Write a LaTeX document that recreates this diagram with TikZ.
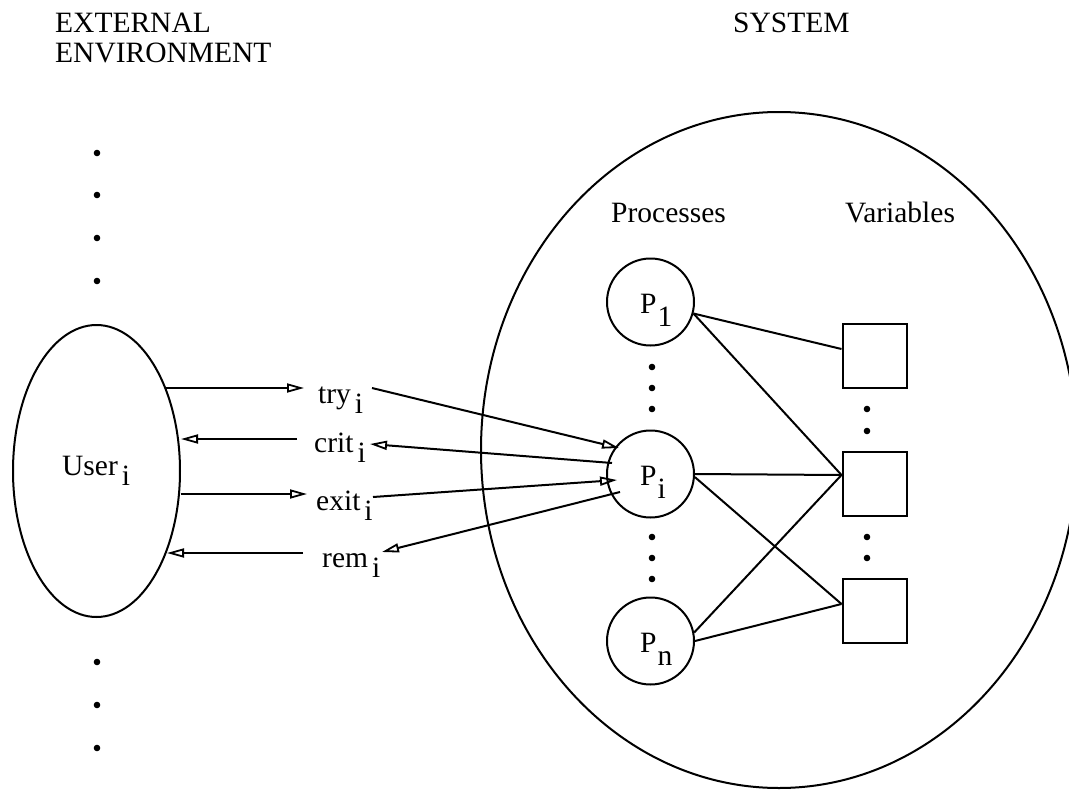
\documentclass[tikz,border=0pt]{standalone}
\usepackage{fontspec}
\setmainfont{Liberation Serif}
\usetikzlibrary{arrows.meta,shapes.geometric,calc}
\newcommand{\lowr}[2]{#1\hspace{4pt}\raisebox{-10pt}{#2}}
\newcommand{\plab}[2]{#1\hspace{1pt}\raisebox{-13pt}{#2}}
\begin{document}
\begin{tikzpicture}[x=1pt,y=-1pt,
  every node/.style={font=\fontsize{29.5}{33}\selectfont},
  txt/.style={anchor=base west,inner sep=0pt},
  ln/.style={line width=2pt},
  arr/.style={line width=2pt,-{Triangle[open,length=17pt,width=9pt,line width=1.8pt]}},
  proc/.style={circle,draw,line width=2pt,minimum size=87pt,inner sep=0pt},
  var/.style={rectangle,draw,line width=2pt,minimum size=64pt,inner sep=0pt},
  dotmark/.style={fill=black}]
\useasboundingbox (0,0) rectangle (1069,790);
\clip (0,0) rectangle (1069,790);

% titles
\node[txt] (ext) at (55,32) {EXTERNAL};
\node[txt] (env) at (55,62) {ENVIRONMENT};
\node[txt] (sys) at (733,32) {SYSTEM};

% system ellipse
\node[ellipse,draw,line width=2pt,minimum width=596pt,minimum height=676pt,inner sep=0pt] (system) at (779,450) {};

\node[txt] (proc) at (611,222) {Processes};
\node[txt] (vars) at (845,222) {Variables};

% user
\node[ellipse,draw,line width=2pt,minimum width=167pt,minimum height=292pt,inner sep=0pt] (user) at (96.5,471) {};
\node[txt] (usert) at (62,475) {\lowr{User}{i}};

% left dots
\foreach \y in {153,195,238,281,662,705,748} \fill[dotmark] (97,\y) circle (3.3);

% processes
\node[proc] (p1) at (650.5,302) {};
\node[proc] (pi) at (650.5,474) {};
\node[proc] (pn) at (650.5,641) {};
\node[txt] (p1t) at (640,313) {\plab{P}{1}};
\node[txt] (pit) at (640,485) {\plab{P}{i}};
\node[txt] (pnt) at (640,652) {\plab{P}{n}};
\foreach \y in {367,388,409,537,558,579} \fill[dotmark] (652,\y) circle (3.3);

% variables
\node[var] (v1) at (874.5,356) {};
\node[var] (v2) at (874.5,484) {};
\node[var] (v3) at (874.5,611) {};
\foreach \y in {409,431,537,558} \fill[dotmark] (867,\y) circle (3.3);

% labels
\node[txt] (try) at (318,403) {\lowr{try}{i}};
\node[txt] (crit) at (314,452) {\lowr{crit}{i}};
\node[txt] (exit) at (316,510) {\lowr{exit}{i}};
\node[txt] (rem) at (322,567) {\lowr{rem}{i}};

% coordinates for connector ends
\coordinate (uTry) at (166,388);
\coordinate (uCrit) at (181,439);
\coordinate (uExit) at (181,494);
\coordinate (uRem) at (167,553);
\coordinate (lTry) at (304,388);
\coordinate (lCrit) at (297,439);
\coordinate (lExit) at (307,494);
\coordinate (lRem) at (303,553);
\coordinate (rTry) at (372,388);
\coordinate (rCrit) at (370,444);
\coordinate (rExit) at (373,497);
\coordinate (rRem) at (382,552);
\coordinate (piTry) at (619,448);
\coordinate (piCrit) at (612,463);
\coordinate (piExit) at (617,480);
\coordinate (piRem) at (620,492);

% user <-> labels
\draw[arr] (uTry) -- (lTry);
\draw[arr] (lCrit) -- (uCrit);
\draw[arr] (uExit) -- (lExit);
\draw[arr] (lRem) -- (uRem);

% labels <-> P_i
\draw[arr] (rTry) -- (piTry);
\draw[arr] (piCrit) -- (rCrit);
\draw[arr] (rExit) -- (piExit);
\draw[arr] (piRem) -- (rRem);

% processes -- variables
\draw[ln] (p1.-15) -- ([yshift=7pt]v1.west);
\draw[ln] (p1.-15) -- ([yshift=9pt]v2.west);
\draw[ln] (pi.0) -- ([yshift=9pt]v2.west);
\draw[ln] (pi.-4) -- ([yshift=7pt]v3.west);
\draw[ln] (pn.11) -- ([yshift=9pt]v2.west);
\draw[ln] (pn.0) -- ([yshift=7pt]v3.west);
\end{tikzpicture}
\end{document}
